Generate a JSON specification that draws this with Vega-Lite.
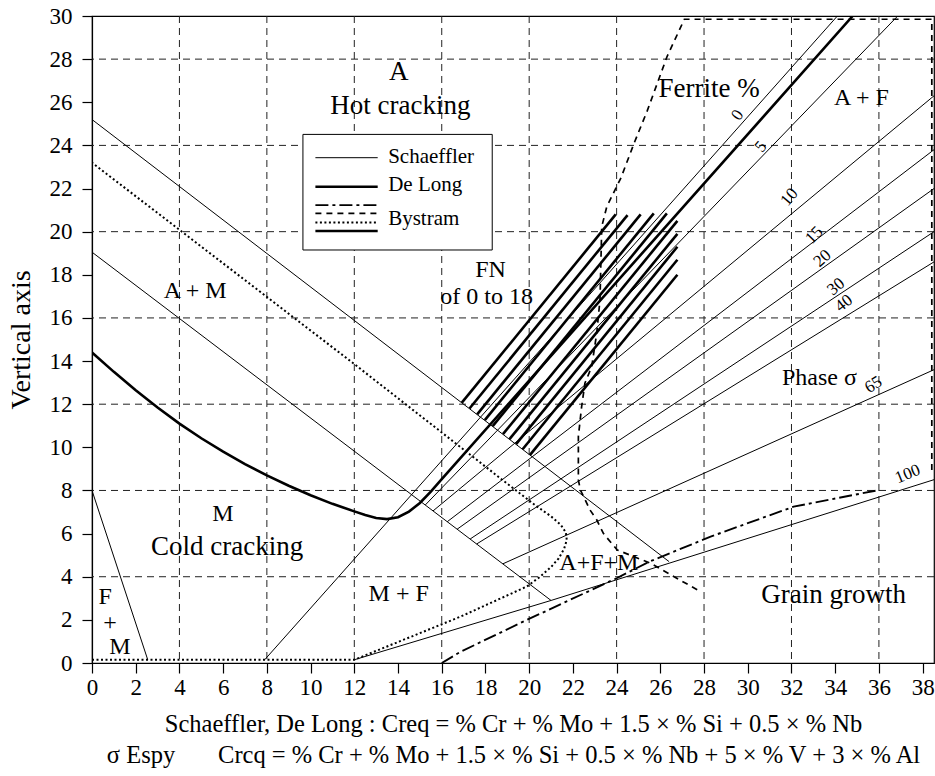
{
  "$schema": "https://vega.github.io/schema/vega-lite/v6.json",
  "width": 842,
  "height": 647,
  "autosize": {"type": "none"},
  "padding": {"left": 92, "top": 16, "right": 1, "bottom": 113},
  "background": "white",
  "config": {
    "view": {"stroke": "black", "strokeWidth": 1.2},
    "axis": {
      "labelFont": "Liberation Serif", "labelColor": "black", "labelFontSize": 23,
      "titleFont": "Liberation Serif", "titleColor": "black", "titleFontWeight": "normal",
      "tickColor": "black", "domainColor": "black", "tickSize": 10, "tickWidth": 1.2, "domainWidth": 1.2,
      "grid": false, "labelFlush": false, "labelOverlap": false
    }
  },
  "datasets": {
    "lines": [
      {"s":"S1","k":"Schaeffler","o":0,"x":0,"y":25.2},{"s":"S1","k":"Schaeffler","o":1,"x":26.4,"y":4.7},
      {"s":"S2","k":"Schaeffler","o":0,"x":0,"y":19.05},{"s":"S2","k":"Schaeffler","o":1,"x":21,"y":2.9},
      {"s":"S3","k":"Schaeffler","o":0,"x":0,"y":8},{"s":"S3","k":"Schaeffler","o":1,"x":2.55,"y":0.15},
      {"s":"S4","k":"Schaeffler","o":0,"x":7.9,"y":0.15},{"s":"S4","k":"Schaeffler","o":1,"x":34.1,"y":30},
      {"s":"S5","k":"Schaeffler","o":0,"x":15.25,"y":7.33},{"s":"S5","k":"Schaeffler","o":1,"x":36.86,"y":30},
      {"s":"S6","k":"Schaeffler","o":0,"x":15.6,"y":7.05},{"s":"S6","k":"Schaeffler","o":1,"x":38.52,"y":26.3},
      {"s":"S7","k":"Schaeffler","o":0,"x":16.25,"y":6.55},{"s":"S7","k":"Schaeffler","o":1,"x":38.52,"y":23.8},
      {"s":"S8","k":"Schaeffler","o":0,"x":16.7,"y":6.2},{"s":"S8","k":"Schaeffler","o":1,"x":38.52,"y":22.0},
      {"s":"S9","k":"Schaeffler","o":0,"x":17.3,"y":5.75},{"s":"S9","k":"Schaeffler","o":1,"x":38.52,"y":20.0},
      {"s":"S10","k":"Schaeffler","o":0,"x":17.6,"y":5.52},{"s":"S10","k":"Schaeffler","o":1,"x":38.52,"y":18.6},
      {"s":"S11","k":"Schaeffler","o":0,"x":18.8,"y":4.6},{"s":"S11","k":"Schaeffler","o":1,"x":38.52,"y":13.6},
      {"s":"S12","k":"Schaeffler","o":0,"x":12,"y":0.15},{"s":"S12","k":"Schaeffler","o":1,"x":21,"y":2.9},{"s":"S12","k":"Schaeffler","o":2,"x":38.52,"y":8.5},
      {"s":"LgS","k":"Schaeffler","o":0,"x":10.22,"y":23.43},{"s":"LgS","k":"Schaeffler","o":1,"x":13.07,"y":23.43},

      {"s":"D1","k":"De Long","o":0,"x":16.92,"y":12.07},{"s":"D1","k":"De Long","o":1,"x":23.96,"y":20.8},
      {"s":"D2","k":"De Long","o":0,"x":17.27,"y":11.8},{"s":"D2","k":"De Long","o":1,"x":24.5,"y":20.77},
      {"s":"D3","k":"De Long","o":0,"x":17.62,"y":11.53},{"s":"D3","k":"De Long","o":1,"x":25.1,"y":20.8},
      {"s":"D4","k":"De Long","o":0,"x":17.97,"y":11.26},{"s":"D4","k":"De Long","o":1,"x":25.7,"y":20.85},
      {"s":"D5","k":"De Long","o":0,"x":18.33,"y":10.98},{"s":"D5","k":"De Long","o":1,"x":26.3,"y":20.85},
      {"s":"D6","k":"De Long","o":0,"x":18.8,"y":10.61},{"s":"D6","k":"De Long","o":1,"x":26.78,"y":20.5},
      {"s":"D7","k":"De Long","o":0,"x":19.1,"y":10.38},{"s":"D7","k":"De Long","o":1,"x":26.78,"y":19.9},
      {"s":"D8","k":"De Long","o":0,"x":19.4,"y":10.15},{"s":"D8","k":"De Long","o":1,"x":26.78,"y":19.3},
      {"s":"D9","k":"De Long","o":0,"x":19.7,"y":9.91},{"s":"D9","k":"De Long","o":1,"x":26.78,"y":18.7},
      {"s":"D10","k":"De Long","o":0,"x":20.04,"y":9.65},{"s":"D10","k":"De Long","o":1,"x":26.78,"y":18.0},
      {"s":"DC","k":"De Long","o":0,"x":0,"y":14.4},{"s":"DC","k":"De Long","o":1,"x":1,"y":13.5},
      {"s":"DC","k":"De Long","o":2,"x":2,"y":12.65},{"s":"DC","k":"De Long","o":3,"x":3,"y":11.85},
      {"s":"DC","k":"De Long","o":4,"x":4,"y":11.1},{"s":"DC","k":"De Long","o":5,"x":5,"y":10.42},
      {"s":"DC","k":"De Long","o":6,"x":6,"y":9.8},{"s":"DC","k":"De Long","o":7,"x":7,"y":9.22},
      {"s":"DC","k":"De Long","o":8,"x":8,"y":8.7},{"s":"DC","k":"De Long","o":9,"x":9,"y":8.22},
      {"s":"DC","k":"De Long","o":10,"x":10,"y":7.78},{"s":"DC","k":"De Long","o":11,"x":11,"y":7.38},
      {"s":"DC","k":"De Long","o":12,"x":12,"y":7.03},{"s":"DC","k":"De Long","o":13,"x":12.5,"y":6.86},
      {"s":"DC","k":"De Long","o":14,"x":13,"y":6.72},{"s":"DC","k":"De Long","o":15,"x":13.5,"y":6.67},
      {"s":"DC","k":"De Long","o":16,"x":14,"y":6.76},{"s":"DC","k":"De Long","o":17,"x":14.5,"y":7.02},
      {"s":"DC","k":"De Long","o":18,"x":15,"y":7.42},{"s":"DC","k":"De Long","o":19,"x":15.5,"y":7.95},
      {"s":"DC","k":"De Long","o":20,"x":16,"y":8.53},{"s":"DC","k":"De Long","o":21,"x":34.8,"y":30},
      {"s":"LgD","k":"De Long","o":0,"x":10.22,"y":22.08},{"s":"LgD","k":"De Long","o":1,"x":13.07,"y":22.08},
      {"s":"LgBs","k":"Bystram solid","o":0,"x":10.22,"y":20.03},{"s":"LgBs","k":"Bystram solid","o":1,"x":13.07,"y":20.03},

      {"s":"BT","k":"Bystram dotted","o":0,"x":0,"y":0.15},{"s":"BT","k":"Bystram dotted","o":1,"x":12,"y":0.15},
      {"s":"BT","k":"Bystram dotted","o":2,"x":16.86,"y":2.15},{"s":"BT","k":"Bystram dotted","o":3,"x":19.9,"y":3.55},
      {"s":"BT","k":"Bystram dotted","o":4,"x":20.5,"y":4.0},{"s":"BT","k":"Bystram dotted","o":5,"x":21.0,"y":4.45},
      {"s":"BT","k":"Bystram dotted","o":6,"x":21.35,"y":4.85},{"s":"BT","k":"Bystram dotted","o":7,"x":21.6,"y":5.3},
      {"s":"BT","k":"Bystram dotted","o":8,"x":21.72,"y":5.7},{"s":"BT","k":"Bystram dotted","o":9,"x":21.68,"y":6.05},
      {"s":"BT","k":"Bystram dotted","o":10,"x":21.45,"y":6.4},{"s":"BT","k":"Bystram dotted","o":11,"x":21.0,"y":6.8},
      {"s":"BT","k":"Bystram dotted","o":12,"x":20.3,"y":7.3},{"s":"BT","k":"Bystram dotted","o":13,"x":18.7,"y":8.55},
      {"s":"BT","k":"Bystram dotted","o":14,"x":12,"y":13.86},{"s":"BT","k":"Bystram dotted","o":15,"x":0,"y":23.2},
      {"s":"LgT","k":"Bystram dotted","o":0,"x":10.22,"y":20.43},{"s":"LgT","k":"Bystram dotted","o":1,"x":13.07,"y":20.43},

      {"s":"BD","k":"Bystram dashed","o":0,"x":38.42,"y":8.95},{"s":"BD","k":"Bystram dashed","o":1,"x":38.42,"y":29.85},
      {"s":"BD","k":"Bystram dashed","o":2,"x":27.1,"y":29.85},{"s":"BD","k":"Bystram dashed","o":3,"x":26.3,"y":28.1},
      {"s":"BD","k":"Bystram dashed","o":4,"x":25.4,"y":25.6},{"s":"BD","k":"Bystram dashed","o":5,"x":24.8,"y":24.1},
      {"s":"BD","k":"Bystram dashed","o":6,"x":24.2,"y":22.5},{"s":"BD","k":"Bystram dashed","o":7,"x":23.55,"y":21.16},
      {"s":"BD","k":"Bystram dashed","o":8,"x":23.32,"y":20.23},{"s":"BD","k":"Bystram dashed","o":9,"x":23.24,"y":16.84},
      {"s":"BD","k":"Bystram dashed","o":10,"x":23.09,"y":15.29},{"s":"BD","k":"Bystram dashed","o":11,"x":22.86,"y":13.74},
      {"s":"BD","k":"Bystram dashed","o":12,"x":22.55,"y":12.97},{"s":"BD","k":"Bystram dashed","o":13,"x":22.4,"y":11.89},
      {"s":"BD","k":"Bystram dashed","o":14,"x":22.25,"y":10.5},{"s":"BD","k":"Bystram dashed","o":15,"x":22.25,"y":8.49},
      {"s":"BD","k":"Bystram dashed","o":16,"x":22.34,"y":8.03},{"s":"BD","k":"Bystram dashed","o":17,"x":22.78,"y":7.1},
      {"s":"BD","k":"Bystram dashed","o":18,"x":23.09,"y":6.64},{"s":"BD","k":"Bystram dashed","o":19,"x":23.4,"y":6.0},
      {"s":"BD","k":"Bystram dashed","o":20,"x":24.03,"y":5.24},{"s":"BD","k":"Bystram dashed","o":21,"x":25.56,"y":4.62},
      {"s":"BD","k":"Bystram dashed","o":22,"x":27.85,"y":3.3},
      {"s":"LgB","k":"Bystram dashed","o":0,"x":10.22,"y":20.85},{"s":"LgB","k":"Bystram dashed","o":1,"x":13.07,"y":20.85},

      {"s":"E","k":"Espy","o":0,"x":16,"y":0},{"s":"E","k":"Espy","o":1,"x":16.86,"y":0.52},
      {"s":"E","k":"Espy","o":2,"x":19.9,"y":2.0},{"s":"E","k":"Espy","o":3,"x":24,"y":3.93},
      {"s":"E","k":"Espy","o":4,"x":25.5,"y":4.7},{"s":"E","k":"Espy","o":5,"x":28.3,"y":5.86},
      {"s":"E","k":"Espy","o":6,"x":32.1,"y":7.25},{"s":"E","k":"Espy","o":7,"x":35.9,"y":8.0},
      {"s":"LgE","k":"Espy","o":0,"x":10.22,"y":21.23},{"s":"LgE","k":"Espy","o":1,"x":13.07,"y":21.23}
    ]
  },
  "layer": [
    {
      "data": {"values": [{"v":4},{"v":8},{"v":12},{"v":16},{"v":20},{"v":24},{"v":28},{"v":32},{"v":36}]},
      "mark": {"type": "rule", "color": "#222", "strokeWidth": 1, "strokeDash": [7, 5]},
      "encoding": {"x": {"field": "v", "type": "quantitative", "scale": {"domain": [0, 38.52], "nice": false, "zero": false}}}
    },
    {
      "data": {"values": [{"v":4},{"v":8},{"v":12},{"v":16},{"v":20},{"v":24},{"v":28}]},
      "mark": {"type": "rule", "color": "#222", "strokeWidth": 1, "strokeDash": [7, 5]},
      "encoding": {"y": {"field": "v", "type": "quantitative", "scale": {"domain": [0, 30], "nice": false, "zero": false}}}
    },
    {
      "data": {"values": [{"x": 9.65, "x2": 18.31, "y": 19.15, "y2": 24.51}]},
      "mark": {"type": "rect", "fill": "white", "stroke": "black", "strokeWidth": 1},
      "encoding": {
        "x": {"field": "x", "type": "quantitative", "scale": {"domain": [0, 38.52], "nice": false, "zero": false}},
        "x2": {"field": "x2"},
        "y": {"field": "y", "type": "quantitative", "scale": {"domain": [0, 30], "nice": false, "zero": false}},
        "y2": {"field": "y2"}
      }
    },
    {
      "data": {"name": "lines"},
      "transform": [{"filter": "datum.k === 'Schaeffler'"}],
      "mark": {"type": "line", "color": "black", "strokeWidth": 1, "clip": true},
      "encoding": {
        "x": {"field": "x", "type": "quantitative", "scale": {"domain": [0, 38.52], "nice": false, "zero": false},
          "axis": {"values": [0,2,4,6,8,10,12,14,16,18,20,22,24,26,28,30,32,34,36,38],
            "title": ["Schaeffler, De Long : Creq = % Cr + % Mo + 1.5 × % Si + 0.5 × % Nb", "σ Espy\u00a0\u00a0\u00a0\u00a0\u00a0\u00a0\u00a0Crcq = % Cr + % Mo + 1.5 × % Si + 0.5 × % Nb + 5 × % V + 3 × % Al"],
            "titleFontSize": 24.5, "titleLineHeight": 31, "titlePadding": 13, "labelPadding": 3}},
        "y": {"field": "y", "type": "quantitative", "scale": {"domain": [0, 30], "nice": false, "zero": false},
          "axis": {"values": [0,2,4,6,8,10,12,14,16,18,20,22,24,26,28,30], "title": "Vertical axis",
            "titleFontSize": 28, "titlePadding": 14, "labelPadding": 10}},
        "detail": {"field": "s"},
        "order": {"field": "o", "type": "quantitative"}
      }
    },
    {
      "data": {"name": "lines"},
      "transform": [{"filter": "datum.k === 'De Long' || datum.k === 'Bystram solid'"}],
      "mark": {"type": "line", "color": "black", "strokeWidth": 2.6, "clip": true},
      "encoding": {
        "x": {"field": "x", "type": "quantitative", "scale": {"domain": [0, 38.52], "nice": false, "zero": false}},
        "y": {"field": "y", "type": "quantitative", "scale": {"domain": [0, 30], "nice": false, "zero": false}},
        "detail": {"field": "s"},
        "order": {"field": "o", "type": "quantitative"}
      }
    },
    {
      "data": {"name": "lines"},
      "transform": [{"filter": "datum.k === 'Bystram dotted'"}],
      "mark": {"type": "line", "color": "black", "strokeWidth": 2, "strokeDash": [2, 2.5], "clip": true},
      "encoding": {
        "x": {"field": "x", "type": "quantitative", "scale": {"domain": [0, 38.52], "nice": false, "zero": false}},
        "y": {"field": "y", "type": "quantitative", "scale": {"domain": [0, 30], "nice": false, "zero": false}},
        "detail": {"field": "s"},
        "order": {"field": "o", "type": "quantitative"}
      }
    },
    {
      "data": {"name": "lines"},
      "transform": [{"filter": "datum.k === 'Bystram dashed'"}],
      "mark": {"type": "line", "color": "black", "strokeWidth": 1.7, "strokeDash": [6, 5], "clip": true},
      "encoding": {
        "x": {"field": "x", "type": "quantitative", "scale": {"domain": [0, 38.52], "nice": false, "zero": false}},
        "y": {"field": "y", "type": "quantitative", "scale": {"domain": [0, 30], "nice": false, "zero": false}},
        "detail": {"field": "s"},
        "order": {"field": "o", "type": "quantitative"}
      }
    },
    {
      "data": {"name": "lines"},
      "transform": [{"filter": "datum.k === 'Espy'"}],
      "mark": {"type": "line", "color": "black", "strokeWidth": 1.9, "strokeDash": [13, 4, 3, 4], "clip": true},
      "encoding": {
        "x": {"field": "x", "type": "quantitative", "scale": {"domain": [0, 38.52], "nice": false, "zero": false}},
        "y": {"field": "y", "type": "quantitative", "scale": {"domain": [0, 30], "nice": false, "zero": false}},
        "detail": {"field": "s"},
        "order": {"field": "o", "type": "quantitative"}
      }
    },
    {
      "data": {"values": [
        {"t": "A", "x": 14.03, "y": 27.41},
        {"t": "Hot cracking", "x": 14.11, "y": 25.82},
        {"t": "Cold cracking", "x": 6.18, "y": 5.39},
        {"t": "Grain growth", "x": 33.93, "y": 3.15},
        {"t": "Ferrite %", "x": 28.23, "y": 26.6}
      ]},
      "mark": {"type": "text", "font": "Liberation Serif", "color": "black", "fontSize": 27, "align": "center", "baseline": "middle"},
      "encoding": {
        "x": {"field": "x", "type": "quantitative", "scale": {"domain": [0, 38.52], "nice": false, "zero": false}},
        "y": {"field": "y", "type": "quantitative", "scale": {"domain": [0, 30], "nice": false, "zero": false}},
        "text": {"field": "t"}
      }
    },
    {
      "data": {"values": [
        {"t": "A + M", "x": 4.72, "y": 17.26},
        {"t": "FN", "x": 18.23, "y": 18.22},
        {"t": "of 0 to 18", "x": 18.05, "y": 16.97},
        {"t": "A + F", "x": 35.2, "y": 26.2},
        {"t": "Phase σ", "x": 33.28, "y": 13.2},
        {"t": "M", "x": 5.99, "y": 6.91},
        {"t": "M + F", "x": 14.03, "y": 3.2},
        {"t": "F", "x": 0.6, "y": 3.07},
        {"t": "+", "x": 0.82, "y": 1.84},
        {"t": "M", "x": 1.28, "y": 0.76},
        {"t": "A+F+M", "x": 23.19, "y": 4.65}
      ]},
      "mark": {"type": "text", "font": "Liberation Serif", "color": "black", "fontSize": 24, "align": "center", "baseline": "middle"},
      "encoding": {
        "x": {"field": "x", "type": "quantitative", "scale": {"domain": [0, 38.52], "nice": false, "zero": false}},
        "y": {"field": "y", "type": "quantitative", "scale": {"domain": [0, 30], "nice": false, "zero": false}},
        "text": {"field": "t"}
      }
    },
    {
      "data": {"values": [
        {"t": "Schaeffler", "x": 13.55, "y": 23.46},
        {"t": "De Long", "x": 13.55, "y": 22.16},
        {"t": "Bystram", "x": 13.55, "y": 20.58}
      ]},
      "mark": {"type": "text", "font": "Liberation Serif", "color": "black", "fontSize": 21, "align": "left", "baseline": "middle"},
      "encoding": {
        "x": {"field": "x", "type": "quantitative", "scale": {"domain": [0, 38.52], "nice": false, "zero": false}},
        "y": {"field": "y", "type": "quantitative", "scale": {"domain": [0, 30], "nice": false, "zero": false}},
        "text": {"field": "t"}
      }
    },
    {
      "data": {"values": [
        {"p": 0, "x": 29.53, "y": 25.4},
        {"p": 5, "x": 30.6, "y": 23.94},
        {"p": 10, "x": 31.9, "y": 21.6},
        {"p": 15, "x": 33.04, "y": 19.84},
        {"p": 20, "x": 33.42, "y": 18.76},
        {"p": 30, "x": 34.04, "y": 17.45},
        {"p": 40, "x": 34.4, "y": 16.68},
        {"p": 65, "x": 35.75, "y": 12.9},
        {"p": 100, "x": 37.32, "y": 8.76}
      ]},
      "mark": {"type": "text", "font": "Liberation Serif", "color": "black", "fontSize": 17, "align": "center", "baseline": "middle"},
      "encoding": {
        "x": {"field": "x", "type": "quantitative", "scale": {"domain": [0, 38.52], "nice": false, "zero": false}},
        "y": {"field": "y", "type": "quantitative", "scale": {"domain": [0, 30], "nice": false, "zero": false}},
        "text": {"field": "p", "type": "quantitative"},
        "angle": {"field": "p", "type": "quantitative", "legend": null,
          "scale": {"domain": [0, 5, 10, 15, 20, 30, 40, 65, 100], "range": [-55, -50, -50, -45, -42, -40, -38, -32, -22]}}
      }
    }
  ]
}
